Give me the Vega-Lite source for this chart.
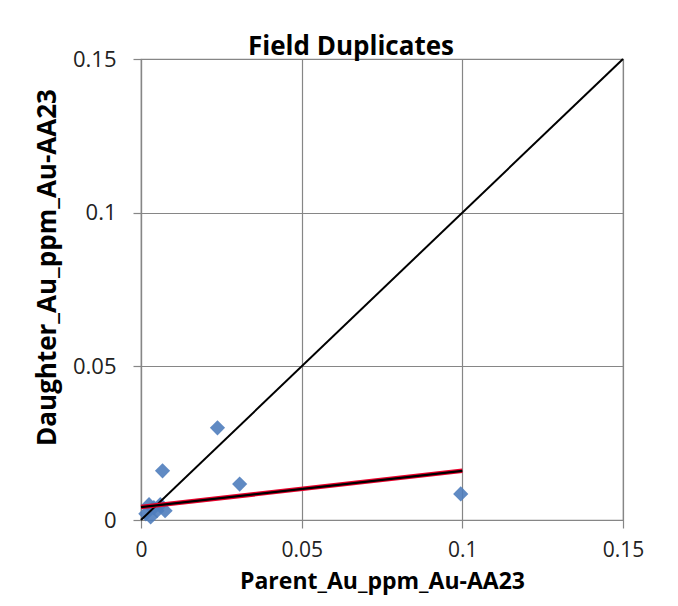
{
  "$schema": "https://vega.github.io/schema/vega-lite/v6.json",
  "autosize": "none",
  "width": 482,
  "height": 461,
  "padding": {"left": 141, "top": 59, "right": 55, "bottom": 86},
  "background": "white",
  "title": {"text": "Field Duplicates", "font": "Open Sans", "fontSize": 26, "fontWeight": "bold", "color": "#000000", "offset": -12, "anchor": "middle", "dx": -31},
  "config": {
    "view": {"stroke": "#868686", "strokeWidth": 1.2},
    "axis": {
      "labelFont": "Open Sans", "labelFontSize": 22, "labelColor": "#222222", "labelFlush": false, "labelOverlap": false,
      "titleFont": "Open Sans", "titleFontSize": 23, "titleFontWeight": "bold", "titleColor": "#000000",
      "gridColor": "#868686", "gridWidth": 1.2, "gridOpacity": 1,
      "domainColor": "#868686", "domainWidth": 1.2,
      "tickColor": "#868686", "tickSize": 8, "tickWidth": 1.2
    }
  },
  "datasets": {
    "pts": [
      {"parent": 0.0238, "daughter": 0.030},
      {"parent": 0.0067, "daughter": 0.016},
      {"parent": 0.0307, "daughter": 0.0117},
      {"parent": 0.0995, "daughter": 0.0085},
      {"parent": 0.0015, "daughter": 0.002},
      {"parent": 0.0025, "daughter": 0.005},
      {"parent": 0.004, "daughter": 0.004},
      {"parent": 0.005, "daughter": 0.003},
      {"parent": 0.006, "daughter": 0.005},
      {"parent": 0.0075, "daughter": 0.003},
      {"parent": 0.003, "daughter": 0.001}
    ],
    "oneone": [
      {"parent": 0, "daughter": 0},
      {"parent": 0.15, "daughter": 0.15}
    ],
    "fit": [
      {"parent": 0, "daughter": 0.0042},
      {"parent": 0.1, "daughter": 0.016}
    ]
  },
  "layer": [
    {
      "data": {"name": "pts"},
      "mark": {"type": "point", "shape": "diamond", "filled": true, "size": 230, "color": "#4F7DBD", "opacity": 0.9},
      "encoding": {
        "x": {"field": "parent", "type": "quantitative", "title": "Parent_Au_ppm_Au-AA23",
              "scale": {"domain": [0, 0.15], "nice": false},
              "axis": {"values": [0, 0.05, 0.1, 0.15], "format": "~g", "labelPadding": 11, "labelFontSize": 21, "titlePadding": 10}},
        "y": {"field": "daughter", "type": "quantitative", "title": "Daughter_Au_ppm_Au-AA23",
              "scale": {"domain": [0, 0.15], "nice": false},
              "axis": {"values": [0, 0.05, 0.1, 0.15], "format": "~g", "labelPadding": 17, "titlePadding": 12, "titleFontSize": 26, "titleY": 208}}
      }
    },
    {
      "data": {"name": "oneone"},
      "mark": {"type": "line", "color": "#000000", "strokeWidth": 2},
      "encoding": {
        "x": {"field": "parent", "type": "quantitative"},
        "y": {"field": "daughter", "type": "quantitative"}
      }
    },
    {
      "data": {"name": "fit"},
      "mark": {"type": "line", "color": "#E8002A", "strokeWidth": 4.5},
      "encoding": {
        "x": {"field": "parent", "type": "quantitative"},
        "y": {"field": "daughter", "type": "quantitative"}
      }
    },
    {
      "data": {"name": "fit"},
      "mark": {"type": "line", "color": "#000000", "strokeWidth": 2.2},
      "encoding": {
        "x": {"field": "parent", "type": "quantitative"},
        "y": {"field": "daughter", "type": "quantitative"}
      }
    }
  ]
}
